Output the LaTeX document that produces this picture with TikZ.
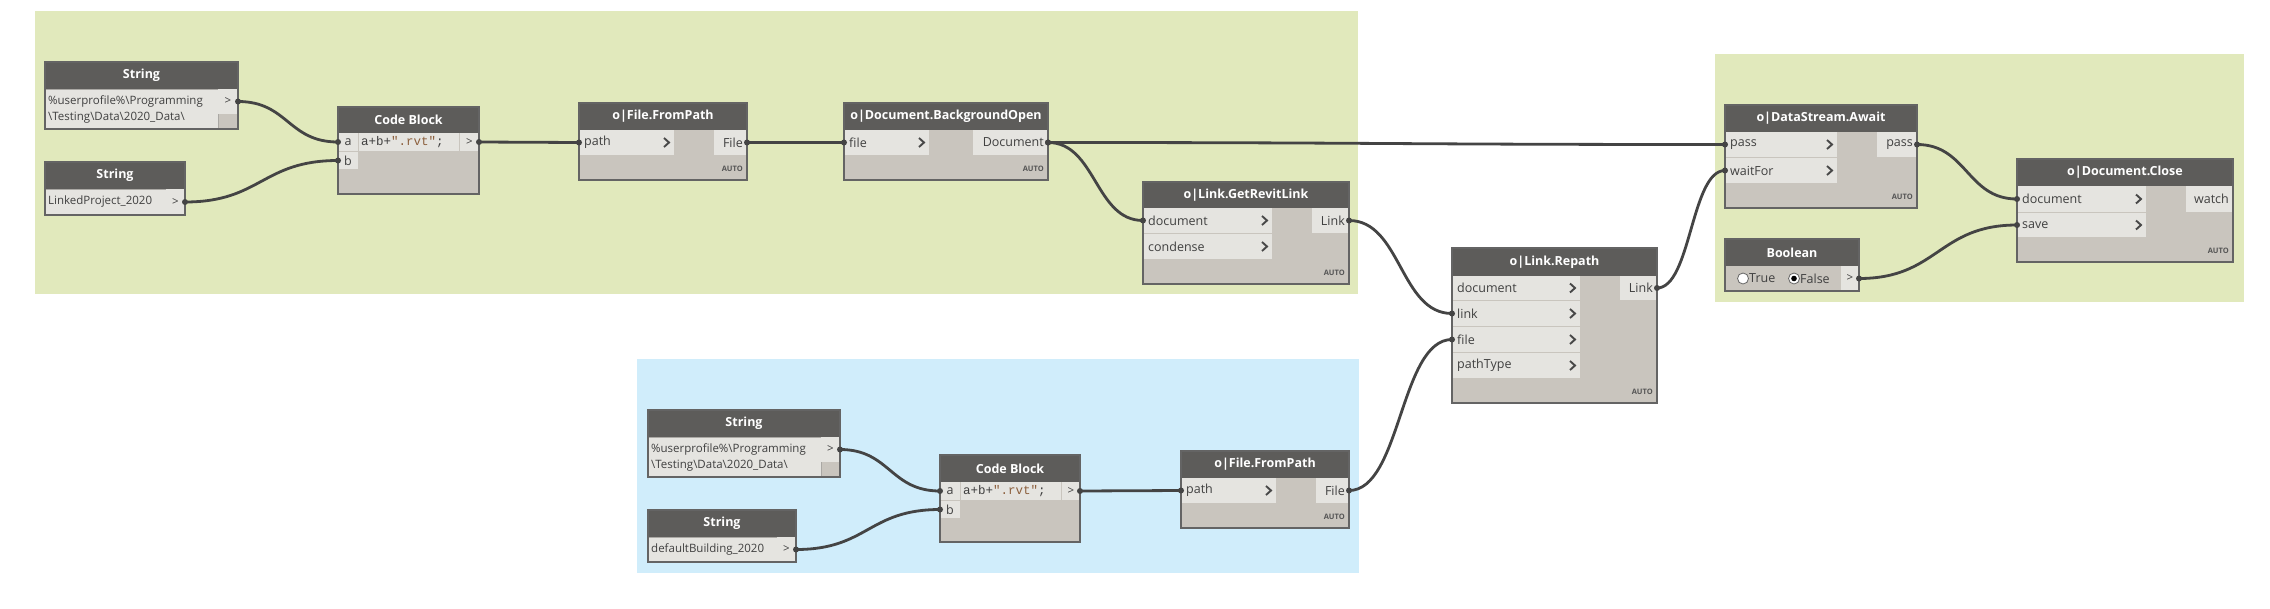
\documentclass[tikz,border=0pt]{standalone}
\usepackage{fontspec}
\setmainfont{Open Sans}
\newfontfamily\dyncode{Liberation Mono}
\usetikzlibrary{calc}
\definecolor{hdrc}{RGB}{93,92,90}
\definecolor{bodyc}{RGB}{201,197,190}
\definecolor{litec}{RGB}{229,228,224}
\definecolor{borderc}{RGB}{100,100,100}
\definecolor{txtbd}{RGB}{170,168,164}
\definecolor{grpg}{RGB}{225,233,188}
\definecolor{grpb}{RGB}{208,237,251}
\definecolor{wirec}{RGB}{68,68,68}
\definecolor{txtc}{RGB}{64,64,64}
\definecolor{chevc}{RGB}{72,72,72}
\definecolor{autoc}{RGB}{85,85,85}
\definecolor{strc}{RGB}{140,95,60}
\newcommand\dynH{\fontsize{12.5}{15}\selectfont\bfseries}
\newcommand\dynP{\fontsize{12.5}{15}\selectfont}
\newcommand\dynS{\fontsize{11.5}{16}\selectfont}
\newcommand\dynA{\fontsize{7.5}{9}\selectfont\bfseries}
\newcommand\dynC{\dyncode\fontsize{12.5}{15}\selectfont}
\tikzset{
  nhdr/.style={fill=hdrc,text=white,font=\dynH},
  nbody/.style={fill=bodyc},
  nlite/.style={fill=litec},
  ngroupg/.style={fill=grpg},
  ngroupb/.style={fill=grpb},
  nframe/.style={draw=borderc,line width=1.2pt},
  ptxt/.style={text=txtc,font=\dynP,inner sep=0pt},
  stxt/.style={text=txtc,font=\dynS,inner sep=0pt,align=left},
  autotxt/.style={text=autoc,font=\dynA,inner sep=0pt,anchor=east},
  wire/.style={draw=wirec,line width=2.8pt},
  chev/.style={draw=chevc,line width=1.9pt},
  radio/.style={circle,draw=black!60,fill=white,minimum size=11pt,inner sep=0pt,line width=0.8pt},
  arrowtxt/.style={text=txtc,font=\dynS}
}
\newcommand\rbx[7]{\node[#6,anchor=north west,inner sep=0pt,outer sep=0pt,minimum width={(#4-#2)*1pt},minimum height={(#5-#3)*1pt}] (#1) at (#2,#3) {#7};}
\newcommand\dyn[7]{\rbx{#1}{#2}{#3}{#4}{#5}{nbody}{}\rbx{#1h}{#2}{#3}{#4}{#6}{nhdr}{#7}}
\newcommand\frm[1]{\draw[nframe] (#1.north west) rectangle (#1.south east);}
\newcommand\pin[6]{\rbx{#1}{#2}{#3}{#4}{#5}{nlite}{}\node[ptxt,anchor=west] (#1t) at ([xshift=5pt]#1.west) {#6};\draw[chev] ([xshift=-10pt,yshift=4.5pt]#1.east) -- ++(5,4.5) -- ++(-5,4.5);}
\newcommand\pout[6]{\rbx{#1}{#2}{#3}{#4}{#5}{nlite}{}\node[ptxt,anchor=east] (#1t) at ([xshift=-4pt]#1.east) {#6};}
\newcommand\sout[5]{\rbx{#1}{#2}{#3}{#4}{#5}{nlite,arrowtxt}{>}}
\newcommand\wire[3]{\draw[wire] (#1) .. controls +(#3,0) and +(-#3,0) .. (#2);\fill[wirec] (#1) circle (3pt);\fill[wirec] (#2) circle (3pt);}
\begin{document}
\begin{tikzpicture}[x=1pt,y=-1pt]
\useasboundingbox (0,0) rectangle (2270,608);
\fill[white] (0,0) rectangle (2270,608);
% groups
\rbx{g1}{35}{11}{1358}{294}{ngroupg}{}
\rbx{g2}{1715}{54}{2244}{302}{ngroupg}{}
\rbx{g3}{637}{359}{1359}{573}{ngroupb}{}
% String 1
\dyn{s1}{45}{62}{238}{129}{89}{String}
\rbx{s1t}{45}{89}{218}{129}{nlite,draw=txtbd}{}
\node[stxt,anchor=west] (s1x) at ([xshift=3pt]s1t.west) {\%userprofile\%\textbackslash Programming\\\textbackslash Testing\textbackslash Data\textbackslash 2020\_Data\textbackslash};
\sout{s1o}{218}{89}{238}{114}
\frm{s1}
% String 2
\dyn{s2}{45}{162}{185}{215}{189}{String}
\rbx{s2t}{45}{189}{166}{215}{nlite,draw=txtbd}{}
\node[stxt,anchor=west] (s2x) at ([xshift=3pt]s2t.west) {LinkedProject\_2020};
\sout{s2o}{166}{189}{185}{215}
\frm{s2}
% Code Block 1
\dyn{cb1}{338}{107}{479}{194}{133}{Code Block}
\rbx{cb1a}{338}{133}{358}{151}{nlite,ptxt}{a}
\rbx{cb1b}{338}{152}{358}{169}{nlite,ptxt}{b}
\rbx{cb1c}{359}{133}{459}{151}{nlite}{}
\node[inner sep=0pt,anchor=west,font=\dynC,text=txtc] (cb1x) at ([xshift=2pt]cb1c.west) {a+b+\textcolor{strc}{".rvt"};};
\sout{cb1o}{460}{133}{479}{151}
\frm{cb1}
% File.FromPath 1
\dyn{fp1}{579}{103}{747}{180}{130}{o|File.FromPath}
\pin{fp1p}{579}{130}{674}{155}{path}
\pout{fp1o}{714}{130}{747}{155}{File}
\node[autotxt] (fp1a) at (743,169) {AUTO};
\frm{fp1}
% Document.BackgroundOpen
\dyn{bg}{844}{103}{1048}{180}{130}{o|Document.BackgroundOpen}
\pin{bgf}{844}{130}{929}{155}{file}
\pout{bgo}{973}{130}{1048}{155}{Document}
\node[autotxt] (bga) at (1044,169) {AUTO};
\frm{bg}
% Link.GetRevitLink
\dyn{grl}{1143}{182}{1349}{284}{208}{o|Link.GetRevitLink}
\pin{grld}{1143}{208}{1272}{233}{document}
\pin{grlc}{1143}{234}{1272}{259}{condense}
\pout{grlo}{1312}{208}{1349}{233}{Link}
\node[autotxt] (grla) at (1345,273) {AUTO};
\frm{grl}
% Link.Repath
\dyn{rp}{1452}{248}{1657}{403}{276}{o|Link.Repath}
\pin{rpd}{1452}{276}{1580}{300}{document}
\pin{rpl}{1452}{301}{1580}{326}{link}
\pin{rpf}{1452}{327}{1580}{352}{file}
\pin{rpt}{1452}{353}{1580}{378}{pathType}
\pout{rpo}{1620}{276}{1657}{300}{Link}
\node[autotxt] (rpa) at (1653,392) {AUTO};
\frm{rp}
% DataStream.Await
\dyn{dsa}{1725}{105}{1917}{208}{132}{o|DataStream.Await}
\pin{dsap}{1725}{132}{1837}{157}{pass}
\pin{dsaw}{1725}{158}{1837}{183}{waitFor}
\pout{dsao}{1877}{132}{1917}{157}{pass}
\node[autotxt] (dsaa) at (1913,197) {AUTO};
\frm{dsa}
% Document.Close
\dyn{dc}{2017}{159}{2233}{262}{186}{o|Document.Close}
\pin{dcd}{2017}{186}{2146}{212}{document}
\pin{dcs}{2017}{213}{2146}{237}{save}
\pout{dco}{2186}{186}{2233}{212}{watch}
\node[autotxt] (dca) at (2229,251) {AUTO};
\frm{dc}
% Boolean
\dyn{bo}{1725}{239}{1859}{291}{266}{Boolean}
\sout{boo}{1841}{266}{1859}{291}
\node[radio] (r1) at (1743,278.5) {};
\node[ptxt,anchor=west] (r1t) at (1749,278.5) {True};
\node[radio] (r2) at (1794,278.5) {};
\fill[black] (r2.center) circle (2.8pt);
\node[ptxt,anchor=west] (r2t) at (1800,278.5) {False};
\frm{bo}
% String 3
\dyn{s3}{648}{410}{840}{477}{437}{String}
\rbx{s3t}{648}{437}{821}{477}{nlite,draw=txtbd}{}
\node[stxt,anchor=west] (s3x) at ([xshift=3pt]s3t.west) {\%userprofile\%\textbackslash Programming\\\textbackslash Testing\textbackslash Data\textbackslash 2020\_Data\textbackslash};
\sout{s3o}{821}{437}{840}{462}
\frm{s3}
% String 4
\dyn{s4}{648}{510}{796}{562}{537}{String}
\rbx{s4t}{648}{537}{777}{562}{nlite,draw=txtbd}{}
\node[stxt,anchor=west] (s4x) at ([xshift=3pt]s4t.west) {defaultBuilding\_2020};
\sout{s4o}{777}{537}{796}{562}
\frm{s4}
% Code Block 2
\dyn{cb2}{940}{455}{1080}{542}{482}{Code Block}
\rbx{cb2a}{940}{482}{960}{500}{nlite,ptxt}{a}
\rbx{cb2b}{940}{501}{960}{518}{nlite,ptxt}{b}
\rbx{cb2c}{961}{482}{1061}{500}{nlite}{}
\node[inner sep=0pt,anchor=west,font=\dynC,text=txtc] (cb2x) at ([xshift=2pt]cb2c.west) {a+b+\textcolor{strc}{".rvt"};};
\sout{cb2o}{1062}{482}{1080}{500}
\frm{cb2}
% File.FromPath 2
\dyn{fp2}{1181}{451}{1349}{528}{478}{o|File.FromPath}
\pin{fp2p}{1181}{478}{1276}{503}{path}
\pout{fp2o}{1316}{478}{1349}{503}{File}
\node[autotxt] (fp2a) at (1345,517) {AUTO};
\frm{fp2}
% wires
\wire{s1o.east}{cb1a.west}{50}
\wire{s2o.east}{cb1b.west}{76}
\wire{cb1o.east}{fp1p.west}{50}
\wire{fp1o.east}{bgf.west}{48}
\wire{bgo.east}{dsap.west}{338}
\wire{bgo.east}{grld.west}{48}
\wire{grlo.east}{rpl.west}{52}
\wire{fp2o.east}{rpf.west}{52}
\wire{rpo.east}{dsaw.west}{34}
\wire{dsao.east}{dcd.west}{50}
\wire{boo.east}{dcs.west}{79}
\wire{s3o.east}{cb2a.west}{50}
\wire{s4o.east}{cb2b.west}{72}
\wire{cb2o.east}{fp2p.west}{50}
\end{tikzpicture}
\end{document}
